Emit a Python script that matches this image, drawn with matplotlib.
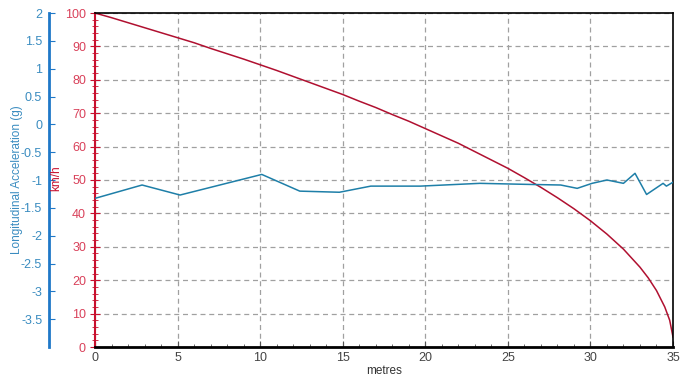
import matplotlib.pyplot as plt
from matplotlib.ticker import MultipleLocator

plt.rcParams['font.family'] = ['Liberation Sans', 'DejaVu Sans']
plt.rcParams['axes.unicode_minus'] = False

# speed trace (km/h)
speed_dist = [0, 1, 2, 3, 4, 5, 6, 7, 8, 9, 10, 11, 12, 13, 14, 15, 16, 17, 18,
              19, 20, 21, 22, 23, 24, 25, 26, 27, 28, 29, 30, 31, 32, 33, 33.5,
              34, 34.5, 34.8, 35]
speed = [100, 98.6, 97.1, 95.6, 94.1, 92.6, 91.1, 89.4, 87.8, 86.2, 84.5, 82.8,
         81.0, 79.2, 77.4, 75.6, 73.6, 71.7, 69.6, 67.6, 65.4, 63.2, 61.0, 58.5,
         56.0, 53.5, 50.7, 47.8, 44.7, 41.4, 37.8, 33.8, 29.3, 23.9, 20.7, 16.9,
         12.0, 8.0, 3.0]

# longitudinal acceleration (g)
acc_dist = [0, 2.85, 5.15, 10.1, 12.4, 14.8, 16.7, 19.7, 23.3, 26.4, 28.2, 29.2,
            30.1, 31.0, 32.0, 32.7, 33.4, 34.4, 34.6, 35.0]
acc = [-1.33, -1.09, -1.27, -0.90, -1.20, -1.22, -1.11, -1.11, -1.06, -1.08,
       -1.09, -1.15, -1.06, -1.00, -1.06, -0.88, -1.26, -1.06, -1.11, -1.04]

red = '#c8102e'
red_txt = '#d9415a'
blue = '#1f78c8'
blue_line = '#1e7fa8'

fig = plt.figure(figsize=(6.87, 3.88), dpi=100)
ax = fig.add_axes([95 / 687, 1 - 347 / 388, 578 / 687, 334 / 388])

ax.plot(speed_dist, speed, color='#b01030', lw=1.1)
ax.set_xlim(0, 35)
ax.set_ylim(0, 100)
ax.xaxis.set_major_locator(MultipleLocator(5))
ax.xaxis.set_minor_locator(MultipleLocator(1))
ax.yaxis.set_major_locator(MultipleLocator(10))
ax.yaxis.set_minor_locator(MultipleLocator(2))
ax.grid(True, which='major', color='#a0a0a0', ls=(0, (4, 3)), lw=0.9)

ax.spines['left'].set_color(red)
ax.spines['left'].set_linewidth(1.5)
ax.spines['bottom'].set_linewidth(2)
ax.spines['top'].set_linewidth(1.2)
ax.spines['right'].set_linewidth(1.2)

ax.tick_params(axis='y', which='both', colors=red, labelcolor=red_txt,
               direction='inout', labelsize=9, pad=3)
ax.tick_params(axis='y', which='major', length=7)
ax.tick_params(axis='y', which='minor', length=4)
ax.tick_params(axis='x', which='both', direction='in', colors='#555555',
               labelcolor='#444444', labelsize=9)
ax.tick_params(axis='x', which='major', length=4)
ax.tick_params(axis='x', which='minor', length=2)
ax.set_xlabel('metres', fontsize=8.5, color='#333333', labelpad=1)

ax2 = ax.twinx()
ax2.plot(acc_dist, acc, color=blue_line, lw=1.1)
ax2.set_ylim(-4, 2)
ax2.set_yticks([2, 1.5, 1, 0.5, 0, -0.5, -1, -1.5, -2, -2.5, -3, -3.5])
ax2.set_yticklabels(['2', '1.5', '1', '0.5', '0', '-0.5', '-1', '-1.5', '-2',
                     '-2.5', '-3', '-3.5'])
ax2.yaxis.set_ticks_position('left')
ax2.spines['left'].set_position(('outward', 33))
ax2.spines['left'].set_color(blue)
ax2.spines['left'].set_linewidth(2)
ax2.spines['right'].set_visible(False)
ax2.spines['top'].set_visible(False)
ax2.spines['bottom'].set_visible(False)
ax2.tick_params(axis='y', colors=blue, labelcolor='#3a8cc0', direction='in',
                length=4, labelsize=9, pad=5)

fig.text(17 / 687, 1 - 180 / 388, 'Longitudinal Acceleration (g)', rotation=90,
         color='#3a8cc0', fontsize=8.5, ha='center', va='center')
fig.text(56 / 687, 1 - 178 / 388, 'km/h', rotation=90, color=red,
         fontsize=8.5, ha='center', va='center')

fig.savefig('out.png', dpi=100)
